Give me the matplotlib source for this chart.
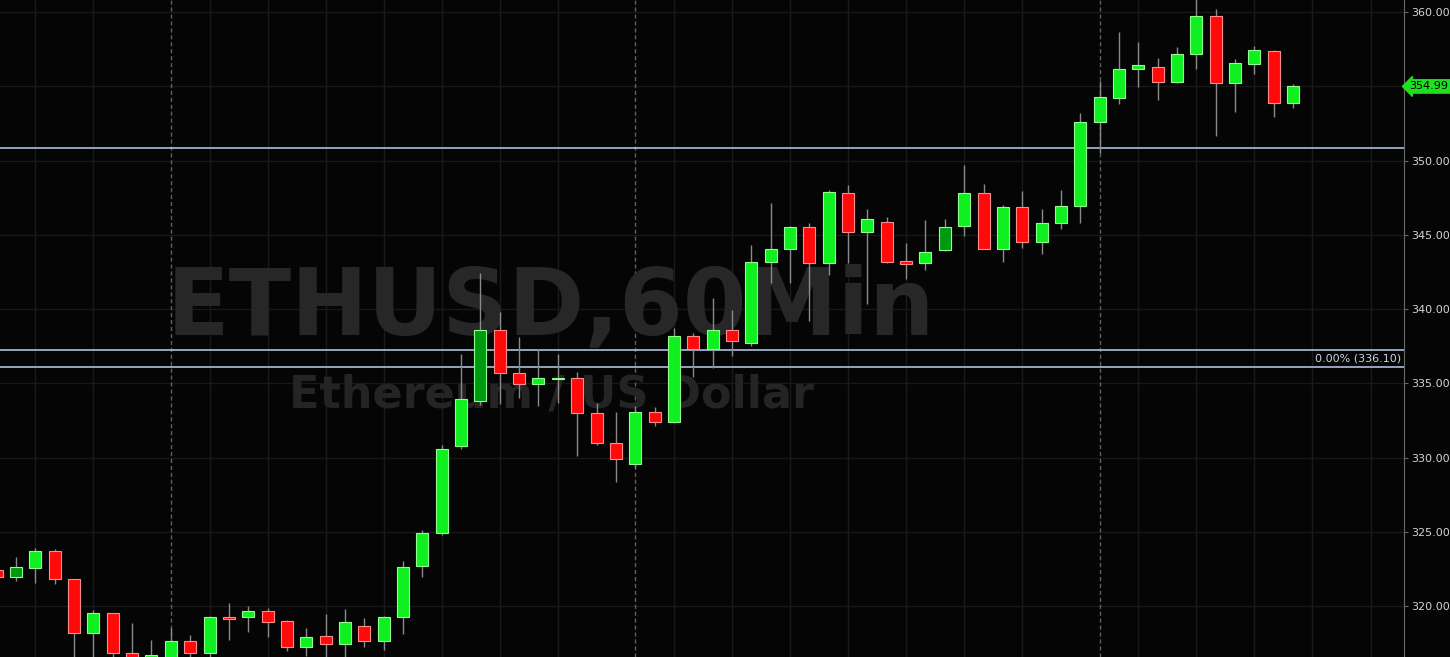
import numpy as np
import matplotlib
matplotlib.use("Agg")
import matplotlib.pyplot as plt
from matplotlib.patches import Rectangle

# hourly ETHUSD candles (oldest first)
opens = [322.42, 321.97, 322.58, 323.70, 321.82, 318.16, 319.51, 316.82, 316.30, 316.40,
         317.64, 316.86, 319.28, 319.24, 319.68, 319.01, 317.26, 317.98, 317.46, 318.65,
         317.64, 319.26, 322.69, 324.92, 330.80, 333.83, 338.59, 335.67, 334.93, 335.30,
         335.33, 332.98, 331.00, 329.54, 333.04, 332.41, 338.20, 337.31, 338.59, 337.69,
         343.19, 344.04, 345.54, 343.12, 347.79, 345.17, 345.88, 343.23, 343.08, 343.97,
         345.57, 347.79, 344.04, 346.85, 344.53, 345.81, 346.96, 352.61, 354.23, 356.16,
         356.32, 355.27, 357.15, 359.73, 355.20, 356.50, 357.37, 353.89]
highs = [322.60, 323.32, 323.89, 323.84, 321.85, 319.73, 319.55, 318.83, 317.71, 318.50,
         318.05, 319.30, 320.18, 320.00, 319.85, 319.05, 318.50, 319.46, 319.80, 319.17,
         319.30, 323.03, 325.12, 330.84, 336.97, 342.44, 339.82, 338.09, 337.29, 336.97,
         335.78, 333.69, 333.04, 333.47, 333.42, 338.70, 338.40, 340.72, 339.93, 344.31,
         347.16, 345.60, 345.77, 348.01, 348.35, 346.71, 346.21, 344.42, 345.99, 346.06,
         349.70, 348.40, 347.00, 347.97, 346.73, 348.01, 353.18, 355.35, 358.63, 358.00,
         356.88, 357.62, 360.90, 360.18, 356.82, 357.73, 357.44, 355.15]
lows = [321.80, 321.70, 321.57, 321.48, 316.30, 316.30, 316.30, 316.00, 316.00, 316.20,
        316.50, 316.40, 317.71, 318.27, 317.93, 316.99, 316.65, 316.50, 316.50, 317.26,
        317.04, 318.11, 321.95, 324.78, 330.60, 333.54, 333.60, 333.99, 333.49, 333.69,
        330.12, 330.85, 328.33, 329.27, 332.12, 332.30, 335.44, 336.00, 336.84, 337.51,
        341.73, 341.77, 339.21, 342.29, 343.08, 340.32, 343.12, 342.00, 342.63, 343.93,
        344.92, 344.02, 343.19, 344.09, 343.70, 345.39, 345.77, 350.48, 353.80, 354.97,
        354.07, 355.20, 356.16, 351.67, 353.29, 355.82, 352.91, 353.56]
closes = [321.95, 322.65, 323.70, 321.80, 318.16, 319.51, 316.82, 316.40, 316.70, 317.64,
          316.86, 319.24, 319.10, 319.68, 318.90, 317.26, 317.93, 317.42, 318.92, 317.64,
          319.24, 322.63, 324.92, 330.57, 333.92, 338.59, 335.67, 334.93, 335.35, 335.36,
          332.98, 331.00, 329.88, 333.04, 332.41, 338.20, 337.31, 338.59, 337.85, 343.19,
          344.02, 345.54, 343.12, 347.86, 345.17, 346.04, 343.19, 343.01, 343.82, 345.50,
          347.79, 344.04, 346.85, 344.49, 345.81, 346.96, 352.61, 354.30, 356.18, 356.41,
          355.27, 357.17, 359.73, 355.20, 356.55, 357.44, 353.89, 354.99]
dim_up = [1, 25, 49]          # candles drawn in the darker green
day_breaks = [9, 33, 57]      # dashed session separators
levels = [350.84, 337.27, 336.10]
fib_label = "0.00% (336.10)"
last_price = "354.99"
symbol = "ETHUSD,60Min"
desc = "Ethereum / US Dollar"
price_ticks = [320, 325, 330, 335, 340, 345, 350, 355, 360]

BG = "#050505"
GREEN = "#10f020"
DARK_GREEN = "#009a10"
RED = "#ff0a0a"

fig = plt.figure(figsize=(14.5, 6.57), dpi=100, facecolor=BG)
ax = fig.add_axes([0, 0, 1404 / 1450, 1])
ax.set_facecolor(BG)
ax.set_xlim(0.173, 72.73)
ax.set_ylim(316.57, 360.81)

# grid
for y in price_ticks:
    ax.axhline(y, color="#181818", lw=1, zorder=0)
for i in range(2, 73, 3):
    if i + 1 in day_breaks:
        continue
    ax.axvline(i, color="#1a1a1a", lw=1, zorder=0)
for i in day_breaks:
    ax.axvline(i, color="#606060", lw=1, ls=(0, (3, 2)), zorder=0)

# watermark
ax.text(0.392, 0.490, symbol, transform=ax.transAxes, ha="center", va="baseline",
        fontsize=66, fontweight="bold", family="DejaVu Sans", color="#272727", zorder=1)
ax.text(0.3925, 0.379, desc, transform=ax.transAxes, ha="center", va="baseline",
        fontsize=32, fontweight="bold", family="DejaVu Sans", color="#242424", zorder=1)

# horizontal levels
for lv in levels:
    ax.axhline(lv, color="#aebedb", lw=1.2, zorder=2)
ax.text(72.6, (levels[1] + levels[2]) / 2, fib_label, ha="right", va="center",
        fontsize=8, color="#c8d4e8", zorder=5)

# candles
w = 0.62
for i in range(len(opens)):
    o, h, l, c = opens[i], highs[i], lows[i], closes[i]
    up = c >= o
    if up:
        fc = DARK_GREEN if i in dim_up else GREEN
        ec = "#90ff90"
    else:
        fc = RED
        ec = "#ff8c8c"
    ax.vlines(i, l, h, color="#8a8a8a", lw=1, zorder=3)
    bottom = min(o, c)
    height = max(abs(c - o), 0.08)
    ax.add_patch(Rectangle((i - w / 2, bottom), w, height, facecolor=fc,
                           edgecolor=ec, lw=0.8, zorder=4))

# right price axis (the 355 label sits under the last-price tag)
ax.yaxis.tick_right()
ax.set_yticks(price_ticks)
ax.set_yticklabels(["" if v == 355 else f"{v:.2f}" for v in price_ticks])
ax.tick_params(axis="y", colors="#d4d4d4", labelsize=8, length=3, width=0.8,
               color="#666666", pad=2)
ax.set_xticks([])
for side in ["top", "bottom", "left"]:
    ax.spines[side].set_visible(False)
ax.spines["right"].set_color("#6a6a6a")

ax.annotate(last_price, xy=(1.0, closes[-1]), xycoords=("axes fraction", "data"),
            xytext=(4, 0), textcoords="offset points", ha="left", va="center",
            fontsize=8, color="#000000", zorder=6,
            bbox=dict(boxstyle="larrow,pad=0.15", fc="#1ee01e", ec="#1ee01e"),
            annotation_clip=False)

fig.savefig("out.png", dpi=100, facecolor=BG)
